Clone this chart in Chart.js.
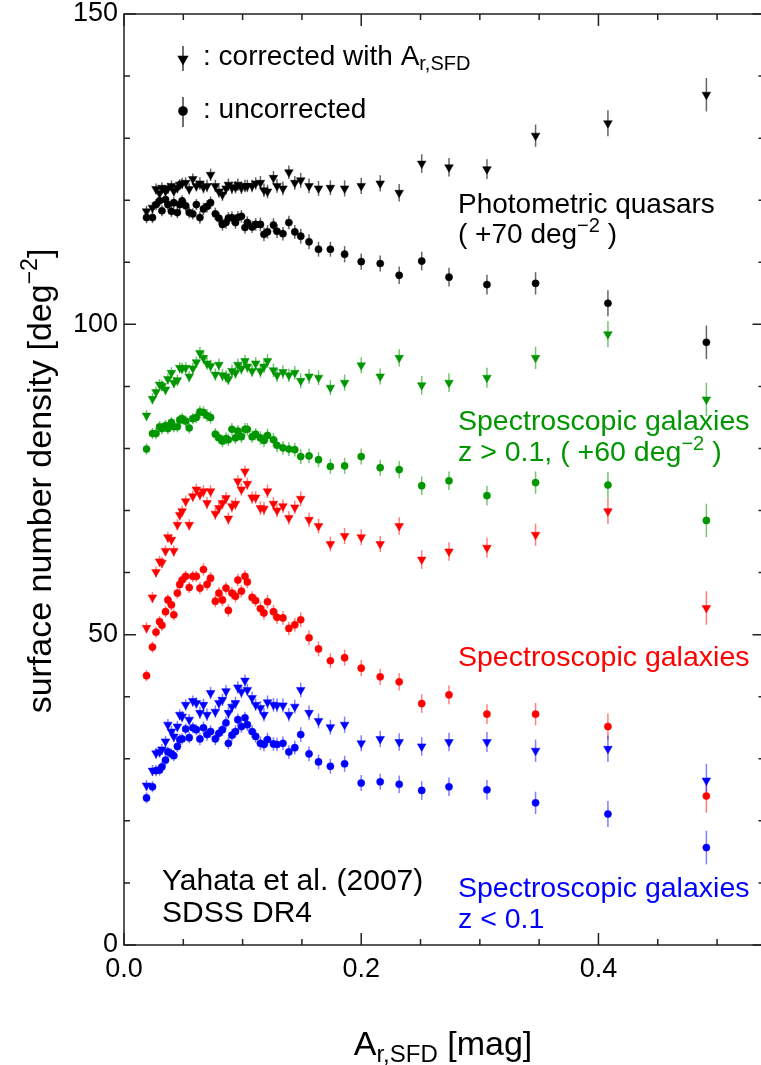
<!DOCTYPE html>
<html>
<head>
<meta charset="utf-8">
<script src="https://cdn.jsdelivr.net/npm/chart.js@4.4.1/dist/chart.umd.min.js"></script>
<style>
    html, body { margin: 0; padding: 0; background: #fff; overflow: hidden; }
    #wrap { position: relative; width: 770px; height: 1065px; }
</style>
</head>
<body>
<div id="wrap"><canvas id="myChart" width="770" height="1065"></canvas></div>
<script>
// bins en A_r,SFD [mag]
const xBins = [0.019, 0.024, 0.027, 0.030, 0.032, 0.035, 0.037, 0.040, 0.042, 0.045,
    0.047, 0.049, 0.052, 0.055, 0.058, 0.061, 0.064, 0.067, 0.070, 0.073,
    0.077, 0.080, 0.083, 0.086, 0.088, 0.091, 0.094, 0.096, 0.099, 0.102,
    0.104, 0.108, 0.111, 0.115, 0.118, 0.121, 0.126, 0.129, 0.134, 0.139,
    0.144, 0.149, 0.156, 0.164, 0.174, 0.186, 0.200, 0.216,
    0.232, 0.251, 0.274, 0.306, 0.347, 0.408, 0.491];

// quasars photométriques (+70)
const quasarCorr = [118.2, 118.8, 121.8, 121.1, 122.0, 121.5, 121.9, 122.3, 121.5, 122.0,
    122.5, 122.7, 122.8, 121.8, 123.4, 122.3, 122.7, 122.1, 122.3, 124.1,
    122.3, 121.4, 120.9, 121.9, 122.5, 122.0, 122.1, 122.5, 122.0, 122.3,
    122.3, 122.3, 122.7, 122.8, 121.6, 121.4, 123.6, 122.3, 121.9, 124.5,
    122.8, 123.2, 122.3, 121.9, 122.0, 121.9, 122.3, 122.7,
    121.2, 125.9, 125.3, 125.0, 130.4, 132.4, 137.0];
const quasarRaw = [117.2, 117.2, 119.3, 119.9, 118.3, 120.1, 119.3, 118.2, 119.6, 118.0,
    119.3, 119.9, 119.1, 118.0, 117.8, 119.3, 117.2, 118.6, 119.0, 119.6,
    117.8, 117.1, 116.1, 116.4, 117.1, 117.2, 116.4, 117.2, 117.4, 115.6,
    116.4, 115.7, 116.1, 116.1, 114.5, 114.9, 116.0, 115.0, 114.6, 116.4,
    114.9, 114.2, 113.3, 112.1, 112.1, 111.3, 110.1, 109.8,
    107.9, 110.2, 107.6, 106.4, 106.6, 103.4, 97.1];

// galaxies spectro z > 0.1 (+60)
const galHighCorr = [85.3, 88.0, 89.1, 90.3, 90.1, 89.5, 91.2, 92.2, 90.6, 91.0,
    93.0, 92.9, 93.0, 91.6, 92.9, 93.9, 95.4, 94.6, 93.7, 93.3,
    91.9, 93.5, 91.8, 91.6, 91.2, 92.5, 92.2, 93.5, 92.9, 94.1,
    93.2, 92.5, 93.7, 92.5, 93.2, 94.1, 92.6, 91.8, 92.3, 91.8,
    92.2, 90.9, 91.6, 91.4, 89.8, 90.6, 93.4, 91.6,
    94.6, 90.2, 90.6, 91.4, 94.6, 98.4, 87.9];
const galHighRaw = [79.9, 82.4, 82.4, 83.5, 83.2, 83.7, 83.2, 84.2, 83.5, 83.5,
    84.6, 84.8, 84.4, 83.3, 84.8, 85.0, 85.9, 85.8, 85.3, 85.0,
    82.3, 81.7, 81.2, 81.6, 81.4, 83.1, 81.7, 82.8, 81.9, 83.1,
    83.1, 81.9, 82.3, 81.7, 81.3, 82.1, 81.4, 80.5, 80.1, 79.9,
    79.8, 78.7, 78.8, 78.2, 77.1, 77.2, 78.7, 76.9,
    76.6, 74.0, 74.8, 72.4, 74.5, 74.1, 68.4];

// galaxies spectro (toutes)
const galCorr = [51.1, 56.0, 60.1, 61.8, 61.6, 63.5, 65.7, 65.3, 63.5, 67.7,
    69.3, 69.9, 71.5, 67.7, 72.3, 73.4, 72.6, 73.1, 71.2, 73.1,
    69.5, 70.4, 71.2, 72.0, 68.7, 70.7, 71.1, 74.7, 73.4, 76.3,
    74.3, 72.1, 72.1, 70.4, 70.3, 73.1, 71.1, 70.0, 70.7, 68.8,
    70.5, 71.9, 68.5, 67.5, 64.6, 65.9, 65.7, 64.6,
    67.5, 62.1, 63.4, 64.0, 66.1, 69.9, 54.3];
const galRaw = [43.4, 48.0, 50.4, 52.1, 51.5, 53.7, 55.6, 54.8, 53.2, 56.7,
    58.1, 58.8, 59.4, 57.6, 59.4, 59.4, 57.5, 60.5, 58.1, 59.1,
    55.4, 56.7, 55.6, 57.5, 53.9, 56.7, 56.2, 58.8, 57.0, 59.4,
    58.5, 56.0, 55.5, 54.2, 53.5, 55.3, 53.7, 52.8, 52.7, 51.0,
    51.6, 52.4, 49.5, 47.7, 45.8, 46.3, 44.6, 43.2,
    42.4, 38.9, 40.3, 37.2, 37.2, 35.2, 24.0];

// galaxies spectro z < 0.1
const galLowCorr = [25.7, 28.1, 30.9, 31.1, 31.5, 32.8, 35.5, 34.4, 33.6, 35.2,
    37.1, 36.8, 38.7, 36.3, 39.3, 39.0, 37.4, 38.7, 37.1, 40.6,
    37.6, 39.0, 39.5, 40.9, 37.4, 38.4, 39.0, 41.5, 40.8, 42.6,
    41.1, 39.8, 38.7, 38.2, 37.1, 39.1, 38.7, 38.6, 38.6, 37.1,
    38.4, 41.1, 37.4, 36.1, 35.1, 35.5, 32.5, 33.2,
    32.7, 32.0, 32.7, 32.7, 31.3, 31.6, 26.5];
const galLowRaw = [23.7, 25.5, 28.1, 28.2, 28.7, 29.8, 31.1, 30.8, 30.5, 32.0,
    33.1, 33.2, 34.8, 33.4, 35.0, 34.7, 33.2, 35.0, 33.9, 34.4,
    33.2, 34.1, 34.7, 35.8, 32.5, 33.8, 34.4, 36.3, 35.2, 36.6,
    35.5, 34.4, 33.6, 32.5, 32.3, 33.1, 32.4, 32.3, 32.5, 31.1,
    31.8, 33.9, 30.8, 29.5, 28.8, 29.2, 26.1, 26.3,
    25.9, 24.9, 25.5, 25.0, 22.9, 21.1, 15.7];

// barres d'erreur (1 sigma, deg^-2)
const errBars = [0.9, 0.9, 0.9, 0.9, 0.9, 0.9, 0.9, 0.9, 0.9, 0.9,
    0.9, 0.9, 0.9, 0.9, 0.9, 0.9, 1.0, 1.0, 1.0, 1.0,
    1.0, 1.0, 1.0, 1.0, 1.0, 1.0, 1.0, 1.0, 1.0, 1.0,
    1.0, 1.0, 1.0, 1.1, 1.1, 1.1, 1.1, 1.1, 1.1, 1.1,
    1.1, 1.2, 1.2, 1.2, 1.2, 1.3, 1.3, 1.3,
    1.4, 1.5, 1.5, 1.6, 1.8, 2.1, 2.7];

// graduations
const xMajor = [0, 0.2, 0.4];
const xTickLabels = ['0.0', '0.2', '0.4'];
const yMajor = [0, 50, 100, 150];
const yTickLabels = ['0', '50', '100', '150'];

const FONT = '"Liberation Sans", Arial, Helvetica, sans-serif';
const GREEN = 'rgb(0,150,0)';

function toPoints(ys) {
    return xBins.map((x, i) => ({ x: x, y: ys[i], e: errBars[i] }));
}

function serie(label, ys, color, barColor, tri) {
    return {
        label: label,
        data: toPoints(ys),
        backgroundColor: color,
        borderColor: color,
        borderWidth: 0.5,
        pointStyle: tri ? 'triangle' : 'circle',
        rotation: tri ? 180 : 0,
        pointRadius: tri ? 5 : 3.6,
        barColor: barColor
    };
}

function isMajor(list, v) {
    return list.findIndex(m => Math.abs(m - v) < 1e-6);
}

// texte avec indices / exposants : [texte, taille, decalage]
function drawRich(ctx, parts, x, y, align) {
    let w = 0;
    parts.forEach(p => {
        ctx.font = p[1] + 'px ' + FONT;
        w += ctx.measureText(p[0]).width;
    });
    let cx = align === 'center' ? x - w / 2 : x;
    parts.forEach(p => {
        ctx.font = p[1] + 'px ' + FONT;
        ctx.fillText(p[0], cx, y + (p[2] || 0));
        cx += ctx.measureText(p[0]).width;
    });
}

function triangleDown(ctx, x, y, r) {
    ctx.beginPath();
    ctx.moveTo(x, y + r);
    ctx.lineTo(x - r * 0.866, y - r * 0.5);
    ctx.lineTo(x + r * 0.866, y - r * 0.5);
    ctx.closePath();
    ctx.fill();
}

// barres d'erreur verticales
const errorBarsPlugin = {
    id: 'errorBars',
    beforeDatasetsDraw(chart) {
        const ctx = chart.ctx;
        const xs = chart.scales.x, ys = chart.scales.y;
        ctx.save();
        ctx.lineWidth = 1.5;
        chart.data.datasets.forEach(ds => {
            ctx.strokeStyle = ds.barColor;
            ds.data.forEach(p => {
                const px = xs.getPixelForValue(p.x);
                ctx.beginPath();
                ctx.moveTo(px, ys.getPixelForValue(p.y - p.e));
                ctx.lineTo(px, ys.getPixelForValue(p.y + p.e));
                ctx.stroke();
            });
        });
        ctx.restore();
    }
};

// cadre + graduations vers l'intérieur
const framePlugin = {
    id: 'frame',
    afterDraw(chart) {
        const ctx = chart.ctx;
        const a = chart.chartArea;
        const xs = chart.scales.x, ys = chart.scales.y;
        ctx.save();
        ctx.strokeStyle = '#222';
        ctx.lineWidth = 1.5;
        ctx.strokeRect(a.left, a.top, a.right - a.left, a.bottom - a.top);
        ctx.beginPath();
        xs.ticks.forEach(t => {
            if (Math.abs(t.value / 0.05 - Math.round(t.value / 0.05)) > 1e-6) return;
            const px = xs.getPixelForValue(t.value);
            const len = isMajor(xMajor, t.value) >= 0 ? 12 : 6;
            ctx.moveTo(px, a.bottom); ctx.lineTo(px, a.bottom - len);
            ctx.moveTo(px, a.top); ctx.lineTo(px, a.top + len);
        });
        ys.ticks.forEach(t => {
            const py = ys.getPixelForValue(t.value);
            const len = isMajor(yMajor, t.value) >= 0 ? 12 : 6;
            ctx.moveTo(a.left, py); ctx.lineTo(a.left + len, py);
            ctx.moveTo(a.right, py); ctx.lineTo(a.right - len, py);
        });
        ctx.stroke();
        ctx.restore();
    }
};

// légende, annotations, titres des axes
const textPlugin = {
    id: 'texts',
    afterDraw(chart) {
        const ctx = chart.ctx;
        ctx.save();
        ctx.textAlign = 'left';
        ctx.textBaseline = 'alphabetic';

        // légende
        ctx.fillStyle = '#000';
        ctx.strokeStyle = 'rgba(0,0,0,0.7)';
        ctx.lineWidth = 1.6;
        ctx.beginPath();
        ctx.moveTo(183, 46); ctx.lineTo(183, 71);
        ctx.moveTo(183, 97); ctx.lineTo(183, 127);
        ctx.stroke();
        triangleDown(ctx, 183, 59, 6.5);
        ctx.beginPath(); ctx.arc(183, 111, 4.8, 0, Math.PI * 2); ctx.fill();
        drawRich(ctx, [[': corrected with A', 28], ['r,SFD', 20, 5]], 203, 65);
        drawRich(ctx, [[': uncorrected', 28]], 203, 118);

        // annotations
        drawRich(ctx, [['Photometric quasars', 28]], 458, 213);
        drawRich(ctx, [['( +70 deg', 28], ['\u22122', 20, -11], [' )', 28]], 458, 243);
        ctx.fillStyle = GREEN;
        drawRich(ctx, [['Spectroscopic galaxies', 28.5]], 458, 430);
        drawRich(ctx, [['z > 0.1, ( +60 deg', 28.5], ['\u22122', 20, -11], [' )', 28.5]], 458, 461);
        ctx.fillStyle = '#ff0000';
        drawRich(ctx, [['Spectroscopic galaxies', 28.5]], 458, 666);
        ctx.fillStyle = '#0000ff';
        drawRich(ctx, [['Spectroscopic galaxies', 28.5]], 458, 897);
        drawRich(ctx, [['z < 0.1', 28.5]], 458, 928);
        ctx.fillStyle = '#000';
        drawRich(ctx, [['Yahata et al. (2007)', 30]], 162, 890);
        drawRich(ctx, [['SDSS DR4', 30]], 162, 922);

        // titres des axes
        drawRich(ctx, [['A', 34], ['r,SFD', 24, 7], [' [mag]', 34]], 443, 1055, 'center');
        ctx.translate(51, 481);
        ctx.rotate(-Math.PI / 2);
        drawRich(ctx, [['surface number density [deg', 34], ['\u22122', 23, -14], [']', 34]], 0, 0, 'center');
        ctx.restore();
    }
};

const ctx = document.getElementById('myChart').getContext('2d');
const chart = new Chart(ctx, {
    type: 'scatter',
    data: {
        datasets: [
            serie('quasars corr', quasarCorr, '#000000', 'rgba(0,0,0,0.6)', true),
            serie('quasars raw', quasarRaw, '#000000', 'rgba(0,0,0,0.6)', false),
            serie('z>0.1 corr', galHighCorr, GREEN, 'rgba(0,150,0,0.55)', true),
            serie('z>0.1 raw', galHighRaw, GREEN, 'rgba(0,150,0,0.55)', false),
            serie('gal corr', galCorr, '#ff0000', 'rgba(255,0,0,0.5)', true),
            serie('gal raw', galRaw, '#ff0000', 'rgba(255,0,0,0.5)', false),
            serie('z<0.1 corr', galLowCorr, '#0000ff', 'rgba(0,0,255,0.5)', true),
            serie('z<0.1 raw', galLowRaw, '#0000ff', 'rgba(0,0,255,0.5)', false)
        ]
    },
    options: {
        responsive: false,
        animation: false,
        devicePixelRatio: 1,
        layout: { padding: { top: 14, right: 5, left: 0, bottom: 0 } },
        plugins: {
            legend: { display: false },
            tooltip: { enabled: false }
        },
        scales: {
            x: {
                type: 'linear',
                min: 0,
                max: 0.54,
                afterFit: (s) => {
                    s.height = 120;
                    s.paddingLeft = 0;
                    s.paddingRight = 0;
                },
                grid: { display: false, drawTicks: false },
                border: { display: false },
                ticks: {
                    stepSize: 0.05,
                    includeBounds: false,
                    autoSkip: false,
                    maxRotation: 0,
                    padding: 8,
                    color: '#000',
                    font: { family: FONT, size: 27 },
                    callback: (v) => {
                        const i = isMajor(xMajor, v);
                        return i >= 0 ? xTickLabels[i] : '';
                    }
                }
            },
            y: {
                min: 0,
                max: 150,
                afterFit: (s) => {
                    s.width = 124;
                    s.paddingTop = 0;
                    s.paddingBottom = 0;
                },
                grid: { display: false, drawTicks: false },
                border: { display: false },
                ticks: {
                    stepSize: 10,
                    autoSkip: false,
                    padding: 6,
                    color: '#000',
                    font: { family: FONT, size: 27 },
                    callback: (v) => {
                        const i = isMajor(yMajor, v);
                        return i >= 0 ? yTickLabels[i] : '';
                    }
                }
            }
        }
    },
    plugins: [errorBarsPlugin, framePlugin, textPlugin]
});
</script>
</body>
</html>
